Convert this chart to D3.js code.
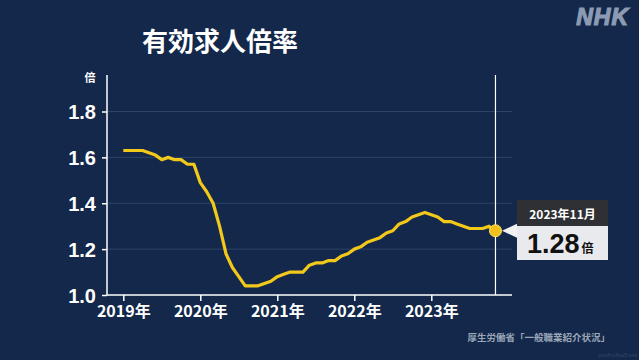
<!DOCTYPE html>
<html>
<head>
<meta charset="utf-8">
<script src="https://cdn.jsdelivr.net/npm/d3@7"></script>
<style>
  body { margin: 0; background: #13284a; }
  svg { display: block; }
</style>
</head>
<body>
<div id="chart"></div>
<script>
const width = 639;
const height = 360;

// monthly values, Jan 2019 .. Nov 2023
const years = [2019, 2020, 2021, 2022, 2023];
const ratio2019 = [1.63, 1.63, 1.63, 1.63, 1.62, 1.61, 1.59, 1.60, 1.59, 1.59, 1.57, 1.57];
const ratio2020 = [1.49, 1.45, 1.40, 1.30, 1.18, 1.12, 1.08, 1.04, 1.04, 1.04, 1.05, 1.06];
const ratio2021 = [1.08, 1.09, 1.10, 1.10, 1.10, 1.13, 1.14, 1.14, 1.15, 1.15, 1.17, 1.18];
const ratio2022 = [1.20, 1.21, 1.23, 1.24, 1.25, 1.27, 1.28, 1.31, 1.32, 1.34, 1.35, 1.36];
const ratio2023 = [1.35, 1.34, 1.32, 1.32, 1.31, 1.30, 1.29, 1.29, 1.29, 1.30, 1.28];
const yTicks = [1.0, 1.2, 1.4, 1.6, 1.8];

const values = [].concat(ratio2019, ratio2020, ratio2021, ratio2022, ratio2023);
const data = values.map((v, i) => ({ m: i, v: v }));
const last = data[data.length - 1];

const svg = d3.select('#chart')
    .append('svg')
    .attr('width', width)
    .attr('height', height);

svg.append('rect')
    .attr('width', width)
    .attr('height', height)
    .attr('fill', '#13284a');

const x = d3.scaleLinear().domain([0, 12]).range([123.3, 200.3]);
const y = d3.scaleLinear().domain([1.0, 1.8]).range([295, 111.5]);

const plotLeft = 107, plotRight = 512, plotTop = 75;

// grid
svg.append('g')
    .selectAll('line')
    .data(yTicks.slice(1))
    .enter().append('line')
    .attr('x1', plotLeft).attr('x2', plotRight)
    .attr('y1', d => y(d)).attr('y2', d => y(d))
    .style('stroke', '#2c4468')
    .style('stroke-width', 1);

// y axis
const yAxis = svg.append('g')
    .attr('transform', `translate(${plotLeft},0)`)
    .call(d3.axisLeft(y).tickValues(yTicks).tickFormat(d3.format('.1f')).tickSize(5).tickPadding(6));
yAxis.select('.domain').remove();
yAxis.selectAll('line').style('stroke', '#fff').style('stroke-width', 1.5);
yAxis.selectAll('text')
    .style('fill', '#fff')
    .style('font-family', '"Liberation Sans", Arial, sans-serif')
    .style('font-weight', 'bold')
    .style('font-size', '20px')
    .attr('dy', '0.36em');

svg.append('line')
    .attr('x1', plotLeft).attr('x2', plotLeft)
    .attr('y1', plotTop).attr('y2', y(1.0))
    .style('stroke', '#fff').style('stroke-width', 1.5);

// x axis
const xAxis = svg.append('g')
    .attr('transform', `translate(0,${y(1.0)})`)
    .call(d3.axisBottom(x).tickValues(years.map((d, i) => i * 12)).tickFormat((d, i) => years[i] + '年').tickSize(6).tickPadding(5));
xAxis.select('.domain').remove();
xAxis.selectAll('line').style('stroke', '#fff').style('stroke-width', 1.5);
xAxis.selectAll('text')
    .style('fill', '#fff')
    .style('font-family', '"Noto Sans CJK JP", sans-serif')
    .style('font-weight', 'bold')
    .style('font-size', '16px');

svg.append('line')
    .attr('x1', plotLeft).attr('x2', plotRight)
    .attr('y1', y(1.0)).attr('y2', y(1.0))
    .style('stroke', '#fff').style('stroke-width', 1.5);

// vertical marker line
svg.append('line')
    .attr('x1', x(last.m)).attr('x2', x(last.m))
    .attr('y1', plotTop).attr('y2', y(1.0))
    .style('stroke', '#fff').style('stroke-width', 1.2);

// unit
svg.append('text')
    .attr('x', 90).attr('y', 82)
    .attr('text-anchor', 'middle')
    .style('fill', '#fff')
    .style('font-family', '"Noto Sans CJK JP", sans-serif')
    .style('font-weight', 'bold')
    .style('font-size', '11px')
    .text('倍');

// line
const line = d3.line().x(d => x(d.m)).y(d => y(d.v));
svg.append('path')
    .datum(data)
    .attr('d', line)
    .style('fill', 'none')
    .style('stroke', '#f2c81b')
    .style('stroke-width', 3.2)
    .style('stroke-linejoin', 'round');

svg.append('circle')
    .attr('cx', x(last.m)).attr('cy', y(last.v))
    .attr('r', 6)
    .style('fill', '#f2c01b')
    .style('stroke', '#ffe070')
    .style('stroke-width', 1);

// callout
const cx = 517, cy = y(last.v);
svg.append('path')
    .attr('d', `M${cx - 15},${cy} L${cx},${cy - 7} L${cx},${cy + 7} Z`)
    .style('fill', '#f2f2f2');
svg.append('rect')
    .attr('x', cx).attr('y', 200).attr('width', 91).attr('height', 27)
    .style('fill', '#2e3033');
svg.append('rect')
    .attr('x', cx).attr('y', 226).attr('width', 91).attr('height', 34)
    .style('fill', '#e8eaee');
svg.append('text')
    .attr('x', cx + 45.5).attr('y', 219)
    .attr('text-anchor', 'middle')
    .style('fill', '#fff')
    .style('font-family', '"Noto Sans CJK JP", sans-serif')
    .style('font-weight', 'bold')
    .style('font-size', '12px')
    .text('2023年11月');
const val = svg.append('text')
    .attr('x', cx + 10).attr('y', 253)
    .style('fill', '#111')
    .style('font-family', '"Liberation Sans", Arial, sans-serif')
    .style('font-weight', 'bold');
val.append('tspan').style('font-size', '27px').text(d3.format('.2f')(last.v));
val.append('tspan').attr('dx', 2).style('font-size', '12px')
    .style('font-family', '"Noto Sans CJK JP", sans-serif').text('倍');

// title
svg.append('text')
    .attr('x', 220).attr('y', 51)
    .attr('text-anchor', 'middle')
    .style('fill', '#fff')
    .style('font-family', '"Noto Sans CJK JP", sans-serif')
    .style('font-weight', 'bold')
    .style('font-size', '26px')
    .text('有効求人倍率');

// logo
svg.append('text')
    .attr('x', 629).attr('y', 25)
    .attr('text-anchor', 'end')
    .style('fill', '#8c9bb3')
    .style('stroke', '#8c9bb3')
    .style('stroke-width', 1.2)
    .style('font-family', '"Liberation Sans", Arial, sans-serif')
    .style('font-weight', 'bold')
    .style('font-style', 'italic')
    .style('font-size', '23px')
    .style('letter-spacing', '1px')
    .text('NHK');

// source
svg.append('text')
    .attr('x', 610).attr('y', 341)
    .attr('text-anchor', 'end')
    .style('fill', '#9aa6b8')
    .style('font-family', '"Noto Sans CJK JP", sans-serif')
    .style('font-weight', 'bold')
    .style('font-size', '9.5px')
    .text('厚生労働省「一般職業紹介状況」');

svg.append('text')
    .attr('x', 637).attr('y', 357)
    .attr('text-anchor', 'end')
    .style('fill', '#3a5072')
    .style('font-family', '"Noto Sans CJK JP", sans-serif')
    .style('font-size', '4px')
    .text('2023年12月26日 NHK');
</script>
</body>
</html>
